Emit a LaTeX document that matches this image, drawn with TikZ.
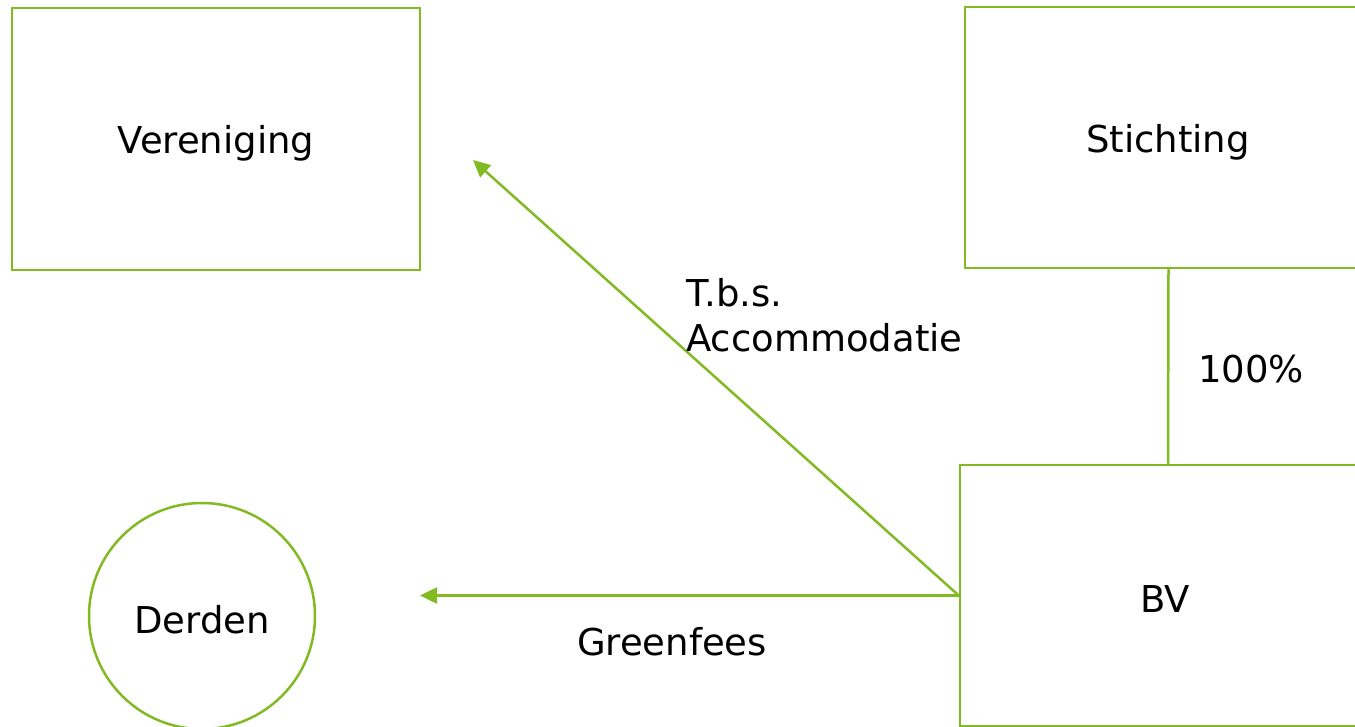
\documentclass[tikz,border=0pt]{standalone}
\usepackage{fontspec}
\setmainfont{DejaVu Sans}
\usetikzlibrary{arrows.meta}
\definecolor{lijn}{RGB}{130,186,36}
\begin{document}
\begin{tikzpicture}[x=1pt,y=-1pt,
  box/.style={draw=lijn,line width=2.5pt,rectangle,inner sep=0pt},
  rond/.style={draw=lijn,line width=2.5pt,circle,inner sep=0pt},
  lbl/.style={font=\fontsize{37}{45}\selectfont,text=black,inner sep=0pt},
  conn/.style={draw=lijn,line width=2.5pt},
  pijl/.style={conn,-{Triangle[length=17pt,width=16pt]}}]
\useasboundingbox (0,0) rectangle (1355,727);
\clip (0,0) rectangle (1355,727);
% organisation boxes
\node[box,minimum width=408pt,minimum height=262pt] (ver) at (216,139) {};
\node[lbl] at (216,143) {Vereniging};
\node[box,minimum width=407pt,minimum height=261pt] (sti) at (1168.5,137.5) {};
\node[lbl] at (1168,142) {Stichting};
\node[box,minimum width=416pt,minimum height=261pt] (bv) at (1168,595.5) {};
\node[lbl] at (1165,599) {BV};
\node[rond,minimum size=226pt] (der) at (202,616) {};
\node[lbl] at (202,620) {Derden};
% connectors
\draw[conn] (sti.south) -- (bv.north);
\node[lbl] (pct) at (1251,369) {100\%};
\coordinate (pv) at (473,160);
\coordinate (pd) at (420,595.5);
\draw[pijl] (bv.west) -- (pv);
\draw[pijl] (bv.west) -- (pd);
\node[lbl,align=left,anchor=north west] (tbs) at (686,278) {T.b.s.\\Accommodatie};
\node[lbl] (gf) at (672,642) {Greenfees};
\end{tikzpicture}
\end{document}
